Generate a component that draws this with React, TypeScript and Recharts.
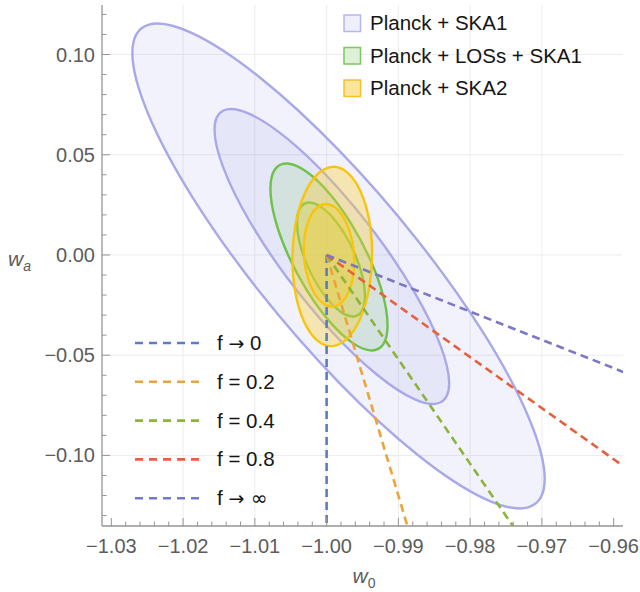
import React from 'react';
import { ComposedChart, Scatter, XAxis, YAxis, CartesianGrid, Legend } from 'recharts';

const W = 640;
const H = 592;
const FONT = '"Liberation Sans", Arial, Helvetica, sans-serif';
const SYMBOL_FONT = '"DejaVu Sans", sans-serif';
const FRAME = '#959595';
const TICK_TEXT = '#5c5c5c';

const X_DOMAIN = [-1.0313, -0.9587];
const Y_DOMAIN = [-0.1352, 0.1247];

const X_MAJOR = [-1.03, -1.02, -1.01, -1.0, -0.99, -0.98, -0.97, -0.96];
const X_MINOR = [
  -1.028, -1.026, -1.024, -1.022, -1.018, -1.016, -1.014, -1.012, -1.008, -1.006, -1.004, -1.002,
  -0.998, -0.996, -0.994, -0.992, -0.988, -0.986, -0.984, -0.982, -0.978, -0.976, -0.974, -0.972,
  -0.968, -0.966, -0.964, -0.962,
];
const Y_MAJOR = [-0.1, -0.05, 0, 0.05, 0.1];
const Y_MINOR = [
  -0.13, -0.12, -0.11, -0.09, -0.08, -0.07, -0.06, -0.04, -0.03, -0.02, -0.01,
  0.01, 0.02, 0.03, 0.04, 0.06, 0.07, 0.08, 0.09, 0.11, 0.12,
];
const X_GRID = [-1.02, -1.01, -1.0, -0.99, -0.98, -0.97];
const Y_GRID = [-0.1, -0.05, 0, 0.05, 0.1];

// contour outlines (w0, wa)
const SKA1_2SIGMA = [
  { x: -0.96961, y: -0.11168 }, { x: -0.9718, y: -0.12576 }, { x: -0.97802, y: -0.12152 },
  { x: -0.98734, y: -0.09963 }, { x: -0.99834, y: -0.06339 }, { x: -1.00934, y: -0.01835 },
  { x: -1.01866, y: 0.02865 }, { x: -1.02488, y: 0.07047 }, { x: -1.02707, y: 0.1007 },
  { x: -1.02488, y: 0.11478 }, { x: -1.01866, y: 0.11054 }, { x: -1.00934, y: 0.08865 },
  { x: -0.99834, y: 0.05241 }, { x: -0.98734, y: 0.00737 }, { x: -0.97802, y: -0.03963 },
  { x: -0.9718, y: -0.08145 },
];
const SKA1_1SIGMA = [
  { x: -0.98292, y: -0.06402 }, { x: -0.98417, y: -0.07358 }, { x: -0.98771, y: -0.07204 },
  { x: -0.99301, y: -0.05965 }, { x: -0.99927, y: -0.03829 }, { x: -1.00553, y: -0.01123 },
  { x: -1.01083, y: 0.01744 }, { x: -1.01437, y: 0.04334 }, { x: -1.01562, y: 0.06252 },
  { x: -1.01437, y: 0.07208 }, { x: -1.01083, y: 0.07054 }, { x: -1.00553, y: 0.05815 },
  { x: -0.99927, y: 0.03679 }, { x: -0.99301, y: 0.00973 }, { x: -0.98771, y: -0.01894 },
  { x: -0.98417, y: -0.04484 },
];
const LOS_2SIGMA = [
  { x: -0.99151, y: -0.03504 }, { x: -0.99213, y: -0.04464 }, { x: -0.9939, y: -0.0476 },
  { x: -0.99655, y: -0.04347 }, { x: -0.99967, y: -0.03287 }, { x: -1.00279, y: -0.01741 },
  { x: -1.00544, y: 0.00054 }, { x: -1.00721, y: 0.01825 }, { x: -1.00783, y: 0.03304 },
  { x: -1.00721, y: 0.04264 }, { x: -1.00544, y: 0.0456 }, { x: -1.00279, y: 0.04147 },
  { x: -0.99967, y: 0.03087 }, { x: -0.99655, y: 0.01541 }, { x: -0.9939, y: -0.00254 },
  { x: -0.99213, y: -0.02025 },
];
const LOS_1SIGMA = [
  { x: -0.99465, y: -0.02044 }, { x: -0.99501, y: -0.02741 }, { x: -0.99604, y: -0.03055 },
  { x: -0.99758, y: -0.02939 }, { x: -0.99939, y: -0.02409 }, { x: -1.00121, y: -0.01546 },
  { x: -1.00274, y: -0.00482 }, { x: -1.00377, y: 0.00621 }, { x: -1.00413, y: 0.01596 },
  { x: -1.00377, y: 0.02293 }, { x: -1.00274, y: 0.02607 }, { x: -1.00121, y: 0.02491 },
  { x: -0.99939, y: 0.01961 }, { x: -0.99758, y: 0.01098 }, { x: -0.99604, y: 0.00034 },
  { x: -0.99501, y: -0.01069 },
];
const SKA2_2SIGMA = [
  { x: -0.99366, y: 0.00059 }, { x: -0.99408, y: -0.01662 }, { x: -0.99529, y: -0.03142 },
  { x: -0.99709, y: -0.04155 }, { x: -0.99921, y: -0.04547 }, { x: -1.00133, y: -0.04258 },
  { x: -1.00314, y: -0.03332 }, { x: -1.00434, y: -0.0191 }, { x: -1.00476, y: -0.00209 },
  { x: -1.00434, y: 0.01512 }, { x: -1.00314, y: 0.02992 }, { x: -1.00133, y: 0.04005 },
  { x: -0.99921, y: 0.04397 }, { x: -0.99709, y: 0.04108 }, { x: -0.99529, y: 0.03182 },
  { x: -0.99408, y: 0.0176 },
];
const SKA2_1SIGMA = [
  { x: -0.99616, y: -0.00322 }, { x: -0.99642, y: -0.01271 }, { x: -0.99719, y: -0.02029 },
  { x: -0.99833, y: -0.0248 }, { x: -0.99967, y: -0.02556 }, { x: -1.00102, y: -0.02245 },
  { x: -1.00216, y: -0.01594 }, { x: -1.00292, y: -0.00703 }, { x: -1.00319, y: 0.00292 },
  { x: -1.00292, y: 0.01241 }, { x: -1.00216, y: 0.01999 }, { x: -1.00102, y: 0.0245 },
  { x: -0.99967, y: 0.02526 }, { x: -0.99833, y: 0.02215 }, { x: -0.99719, y: 0.01564 },
  { x: -0.99642, y: 0.00673 },
];

// dashed f-tracks from the fiducial point
const F_ZERO = [{ x: -1.0, y: 0 }, { x: -1.0, y: -0.1352 }];
const F_02 = [{ x: -1.0, y: 0 }, { x: -0.98874, y: -0.1352 }];
const F_04 = [{ x: -1.0, y: 0 }, { x: -0.97404, y: -0.1352 }];
const F_08 = [{ x: -1.0, y: 0 }, { x: -0.95866, y: -0.1053 }];
const F_INF = [{ x: -1.0, y: 0 }, { x: -0.95866, y: -0.05835 }];

const CONTOUR_NAMES = ['Planck + SKA1', 'Planck + LOSs + SKA1', 'Planck + SKA2'];
// [prefix, symbol, suffix]
const F_NAMES: [string, string, string][] = [
  ['f ', '\u2192', ' 0'],
  ['f = 0.2', '', ''],
  ['f = 0.4', '', ''],
  ['f = 0.8', '', ''],
  ['f ', '\u2192', ' \u221e'],
];

const SKA1 = { stroke: '#a9a9ea', fill: '#8282e6', opacity: 0.1, box: '#efeffc', boxStroke: '#b6b6ee' };
const LOS = { stroke: '#6ec24c', fill: '#86cc78', opacity: 0.2, box: '#def0d8', boxStroke: '#7cc75e' };
const SKA2 = { stroke: '#f7c50c', fill: '#fbcf2c', opacity: 0.35, box: '#fbe59c', boxStroke: '#f3c22a' };
const F_COLORS = ['#5a7fc0', '#eca43a', '#8db33c', '#e5603d', '#7b78c3'];

const near = (list: number[], v: number) => list.some((m) => Math.abs(m - v) < 1e-9);
const fmt = (v: number) => (Math.abs(v) < 1e-9 ? 0 : v).toFixed(2).replace('-', '\u2212');

function closedPath(pts: { x: number; y: number }[]) {
  const n = pts.length;
  let d = `M${pts[0].x},${pts[0].y}`;
  for (let i = 0; i < n; i++) {
    const p0 = pts[(i - 1 + n) % n];
    const p1 = pts[i];
    const p2 = pts[(i + 1) % n];
    const p3 = pts[(i + 2) % n];
    const c1x = p1.x + (p2.x - p0.x) / 6;
    const c1y = p1.y + (p2.y - p0.y) / 6;
    const c2x = p2.x - (p3.x - p1.x) / 6;
    const c2y = p2.y - (p3.y - p1.y) / 6;
    d += `C${c1x},${c1y} ${c2x},${c2y} ${p2.x},${p2.y}`;
  }
  return d + 'Z';
}

const contourLine = (c: typeof SKA1) => (props: any) => (
  <path
    d={closedPath(props.points)}
    fill={c.fill}
    fillOpacity={c.opacity}
    stroke={c.stroke}
    strokeWidth={2.4}
  />
);

const noDot = () => <g />;

function BottomTick({ x, y, payload }: any) {
  const major = near(X_MAJOR, payload.value);
  return (
    <g>
      <line x1={x} x2={x} y1={y} y2={y - (major ? 8 : 4.5)} stroke={FRAME} />
      {major && (
        <text x={x} y={y + 26.5} textAnchor="middle" fill={TICK_TEXT} fontSize={20} fontFamily={FONT}>
          {fmt(payload.value)}
        </text>
      )}
    </g>
  );
}

function TopTick({ x, y, payload }: any) {
  const major = near(X_MAJOR, payload.value);
  return <line x1={x} x2={x} y1={y} y2={y + (major ? 8 : 4.5)} stroke={FRAME} />;
}

function LeftTick({ x, y, payload }: any) {
  const major = near(Y_MAJOR, payload.value);
  return (
    <g>
      <line x1={x} x2={x + (major ? 8 : 4.5)} y1={y} y2={y} stroke={FRAME} />
      {major && (
        <text x={x - 7} y={y + 7} textAnchor="end" fill={TICK_TEXT} fontSize={20} fontFamily={FONT}>
          {fmt(payload.value)}
        </text>
      )}
    </g>
  );
}

function RightTick({ x, y, payload }: any) {
  const major = near(Y_MAJOR, payload.value);
  return <line x1={x} x2={x - (major ? 8 : 4.5)} y1={y} y2={y} stroke={FRAME} />;
}

function XLabel({ viewBox }: any) {
  return (
    <text x={viewBox.x + viewBox.width / 2 - 10} y={viewBox.y + 57} fill={TICK_TEXT} fontSize={21} fontFamily={FONT} fontStyle="italic">
      w<tspan fontSize={14} dy={5} fontStyle="normal">0</tspan>
    </text>
  );
}

function YLabel({ viewBox }: any) {
  return (
    <text x={viewBox.x + 6} y={viewBox.y + viewBox.height / 2} fill={TICK_TEXT} fontSize={21} fontFamily={FONT} fontStyle="italic">
      w<tspan fontSize={14} dy={5}>a</tspan>
    </text>
  );
}

function LegendOverlay() {
  const boxes = [SKA1, LOS, SKA2];
  return (
    <svg width={W} height={H} style={{ position: 'absolute', left: 0, top: 0 }}>
      {CONTOUR_NAMES.map((name, i) => {
        const cy = 23 + i * 32.5;
        return (
          <g key={name}>
            <rect x={344} y={cy - 8} width={16.5} height={16.5} fill={boxes[i].box} stroke={boxes[i].boxStroke} strokeWidth={1.5} />
            <text x={370} y={cy + 7} fontSize={20.5} fontFamily={FONT} fill="#151515">
              {name}
            </text>
          </g>
        );
      })}
      {F_NAMES.map(([pre, sym, post], i) => {
        const cy = 343 + i * 38.8;
        return (
          <g key={i}>
            <line x1={135} x2={204} y1={cy} y2={cy} stroke={F_COLORS[i]} strokeWidth={2.6} strokeDasharray="8 6" />
            <text x={217} y={cy + 7} fontSize={20.5} fontFamily={FONT} fill="#151515" xmlSpace="preserve">
              {pre}
              {sym && <tspan fontFamily={SYMBOL_FONT} fontSize={19}>{sym}</tspan>}
              {post && (post.includes('\u221e') ? (
                <tspan fontFamily={SYMBOL_FONT} fontSize={20}>{post}</tspan>
              ) : (
                <tspan>{post}</tspan>
              ))}
            </text>
          </g>
        );
      })}
    </svg>
  );
}

export default function App() {
  const contours: [any[], typeof SKA1][] = [
    [SKA1_2SIGMA, SKA1],
    [SKA1_1SIGMA, SKA1],
    [LOS_2SIGMA, LOS],
    [LOS_1SIGMA, LOS],
    [SKA2_2SIGMA, SKA2],
    [SKA2_1SIGMA, SKA2],
  ];
  const tracks = [F_ZERO, F_02, F_04, F_08, F_INF];
  const xTicks = [...X_MAJOR, ...X_MINOR].sort((a, b) => a - b);
  const yTicks = [...Y_MAJOR, ...Y_MINOR].sort((a, b) => a - b);

  return (
    <div style={{ position: 'absolute', left: 0, top: 0, width: W, height: H, background: '#fff' }}>
      <ComposedChart width={W} height={H} margin={{ top: 5, right: 17, bottom: 0, left: 2 }}>
        <CartesianGrid stroke="#ececec" strokeWidth={1} horizontalValues={Y_GRID} verticalValues={X_GRID} />
        <XAxis
          xAxisId={0}
          type="number"
          dataKey="x"
          domain={X_DOMAIN}
          allowDataOverflow
          ticks={xTicks}
          interval={0}
          tickSize={0}
          tickMargin={0}
          tickLine={false}
          tick={<BottomTick />}
          axisLine={{ stroke: FRAME, strokeWidth: 1.3 }}
          height={66}
          label={<XLabel />}
        />
        <XAxis
          xAxisId="top"
          orientation="top"
          type="number"
          dataKey="x"
          domain={X_DOMAIN}
          allowDataOverflow
          ticks={xTicks}
          interval={0}
          tickSize={0}
          tickMargin={0}
          tickLine={false}
          tick={<TopTick />}
          axisLine={{ stroke: FRAME, strokeWidth: 1.3 }}
          height={0}
        />
        <YAxis
          yAxisId={0}
          type="number"
          dataKey="y"
          domain={Y_DOMAIN}
          allowDataOverflow
          ticks={yTicks}
          interval={0}
          tickSize={0}
          tickMargin={0}
          tickLine={false}
          tick={<LeftTick />}
          axisLine={{ stroke: FRAME, strokeWidth: 1.3 }}
          width={100}
          label={<YLabel />}
        />
        <YAxis
          yAxisId="right"
          orientation="right"
          type="number"
          dataKey="y"
          domain={Y_DOMAIN}
          allowDataOverflow
          ticks={yTicks}
          interval={0}
          tickSize={0}
          tickMargin={0}
          tickLine={false}
          tick={<RightTick />}
          axisLine={{ stroke: FRAME, strokeWidth: 1.3 }}
          width={0}
        />
        {contours.map(([pts, c], i) => (
          <Scatter
            key={'c' + i}
            data={pts}
            shape={noDot}
            line={contourLine(c)}
            isAnimationActive={false}
          />
        ))}
        {tracks.map((pts, i) => (
          <Scatter
            key={'f' + i}
            data={pts}
            shape={noDot}
            line={{ stroke: F_COLORS[i], strokeWidth: 2.6, strokeDasharray: '8 5', fill: 'none' }}
            isAnimationActive={false}
          />
        ))}
        <Legend
          layout="vertical"
          align="center"
          verticalAlign="middle"
          wrapperStyle={{ left: 0, top: 0, width: W, height: H, pointerEvents: 'none' }}
          content={() => <LegendOverlay />}
        />
      </ComposedChart>
    </div>
  );
}
